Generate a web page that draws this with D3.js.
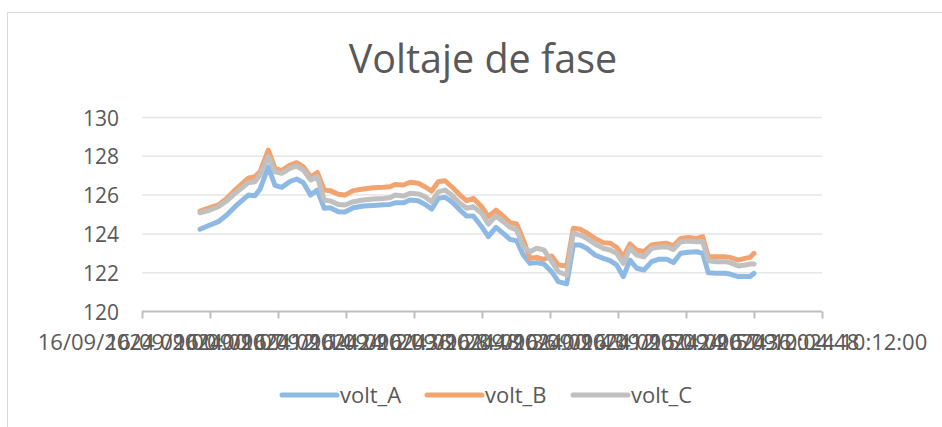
<!DOCTYPE html>
<html>
<head>
<meta charset="utf-8">
<script src="https://cdn.jsdelivr.net/npm/d3@7"></script>
<style>
  html, body { margin: 0; padding: 0; background: #fff; }
  svg { display: block; font-family: "Open Sans", sans-serif; }
</style>
</head>
<body>
<svg id="chart" width="942" height="427"></svg>
<script>
// ---- data (minutes after 16/09/2024 09:00:00) ----
const minutes = [6.14, 7.20, 8.08, 8.97, 9.85, 10.73, 11.25, 11.96, 12.49, 13.37,
  14.08, 14.79, 15.67, 16.38, 17.08, 17.86, 18.56, 19.30, 19.91, 20.78,
  21.49, 22.37, 23.43, 24.49, 25.55, 26.26, 26.79, 27.67, 28.38, 29.25,
  29.96, 30.67, 31.37, 32.08, 32.79, 33.67, 34.38, 35.08,
  35.97, 36.67, 37.48, 38.25, 38.96, 39.67, 40.37, 41.08, 41.79, 42.56,
  43.38, 44.08, 44.97, 45.67, 46.38, 47.08, 47.96, 48.84, 49.55, 50.26,
  50.96, 51.67, 52.38, 53.15, 53.97, 54.67, 55.56, 56.26, 57.04, 57.84,
  58.73, 59.37, 59.96, 60.85, 61.73, 62.26, 63.14, 63.85, 64.38, 64.80];

const voltA = [124.24, 124.46, 124.63, 124.97, 125.4, 125.78, 126.0, 125.97, 126.3, 127.46,
  126.5, 126.4, 126.7, 126.83, 126.64, 126.0, 126.26, 125.32, 125.35, 125.14,
  125.13, 125.35, 125.44, 125.47, 125.5, 125.52, 125.6, 125.6, 125.75, 125.71,
  125.52, 125.28, 125.83, 125.89, 125.66, 125.23, 124.92, 124.92,
  124.37, 123.86, 124.34, 124.03, 123.72, 123.65, 122.91, 122.48, 122.52, 122.45,
  122.05, 121.54, 121.42, 123.43, 123.43, 123.26, 122.91, 122.74, 122.62, 122.4,
  121.8, 122.65, 122.23, 122.14, 122.57, 122.69, 122.69, 122.52, 123.0, 123.05,
  123.08, 123.0, 122.0, 121.97, 121.97, 121.93, 121.8, 121.8, 121.8, 121.97];

const voltB = [125.18, 125.35, 125.49, 125.83, 126.26, 126.64, 126.87, 126.95, 127.2, 128.32,
  127.38, 127.26, 127.55, 127.67, 127.46, 126.92, 127.17, 126.26, 126.23, 126.04,
  126.0, 126.23, 126.31, 126.38, 126.4, 126.43, 126.55, 126.52, 126.66, 126.61,
  126.43, 126.21, 126.69, 126.74, 126.43, 126.0, 125.71, 125.83,
  125.4, 124.89, 125.23, 124.92, 124.58, 124.51, 123.69, 122.74, 122.79, 122.69,
  122.86, 122.4, 122.35, 124.29, 124.24, 124.06, 123.77, 123.55, 123.52, 123.31,
  122.82, 123.48, 123.17, 123.08, 123.43, 123.48, 123.52, 123.38, 123.77, 123.82,
  123.77, 123.86, 122.82, 122.82, 122.82, 122.79, 122.65, 122.74, 122.79, 123.0];

const voltC = [125.09, 125.23, 125.4, 125.7, 126.09, 126.43, 126.64, 126.69, 127.04, 127.98,
  127.2, 127.12, 127.38, 127.5, 127.29, 126.78, 126.95, 125.75, 125.7, 125.52,
  125.49, 125.66, 125.75, 125.8, 125.83, 125.86, 126.0, 125.95, 126.09, 126.06,
  125.92, 125.66, 126.17, 126.26, 126.0, 125.58, 125.32, 125.4,
  125.06, 124.51, 124.92, 124.63, 124.34, 124.2, 123.34, 123.08, 123.26, 123.17,
  122.57, 122.05, 121.88, 124.03, 123.94, 123.77, 123.48, 123.26, 123.17, 123.0,
  122.48, 123.26, 122.91, 122.82, 123.26, 123.31, 123.34, 123.2, 123.6, 123.63,
  123.6, 123.6, 122.62, 122.57, 122.57, 122.52, 122.35, 122.4, 122.45, 122.45];

const xTickMinutes = [0, 7.2, 14.4, 21.6, 28.8, 36, 43.2, 50.4, 57.6, 64.8, 72];
const xTickLabels = ["16/09/2024 09:00:00", "16/09/2024 09:07:12", "16/09/2024 09:14:24",
  "16/09/2024 09:21:36", "16/09/2024 09:28:48", "16/09/2024 09:36:00", "16/09/2024 09:43:12",
  "16/09/2024 09:50:24", "16/09/2024 09:57:36", "16/09/2024 10:04:48", "16/09/2024 10:12:00"];
const yTicks = [120, 122, 124, 126, 128, 130];

const seriesNames = ["volt_A", "volt_B", "volt_C"];
const seriesColors = ["#8DB9E4", "#F2A470", "#C0C0C0"];
const title = "Voltaje de fase";

// ---- drawing ----
const svg = d3.select("#chart");
const W = 942, H = 427;

// chart border
svg.append("rect").attr("x", 7.5).attr("y", 12.5).attr("width", W).attr("height", H)
  .attr("fill", "#fff").attr("stroke", "#D9D9D9").attr("stroke-width", 1);

const x = d3.scaleLinear().domain([0, 72]).range([142, 822]);
const y = d3.scaleLinear().domain([120, 130]).range([311.5, 117.5]);

// title
svg.append("text").attr("x", 483).attr("y", 73).attr("text-anchor", "middle")
  .attr("font-size", 39.5).attr("fill", "#595959").text(title);

// gridlines
svg.append("g").selectAll("line").data(yTicks.filter(d => d !== 120)).join("line")
  .attr("x1", x(0)).attr("x2", x(72))
  .attr("y1", d => y(d)).attr("y2", d => y(d))
  .attr("stroke", "#E6E6E6").attr("stroke-width", 1.5);

// y axis labels
const yAxis = d3.axisLeft(y).tickValues(yTicks).tickSize(0).tickPadding(0).tickFormat(d3.format("d"));
const gy = svg.append("g").attr("transform", "translate(119,0)").call(yAxis);
gy.select(".domain").remove();
gy.selectAll("text").attr("font-size", 21).attr("fill", "#595959")
  .attr("font-family", "Open Sans, sans-serif").attr("dy", "0.36em");

// x axis
const xAxis = d3.axisBottom(x).tickValues(xTickMinutes).tickSize(7).tickPadding(16)
  .tickFormat((d, i) => xTickLabels[i]);
const gx = svg.append("g").attr("transform", `translate(0,${y(120)})`).call(xAxis);
gx.select(".domain").attr("stroke", "#BFBFBF").attr("stroke-width", 2)
  .attr("d", `M${x(0)},0H${x(72)}`);
gx.selectAll(".tick line").attr("stroke", "#BFBFBF").attr("stroke-width", 2);
gx.selectAll("text").attr("font-size", 22).attr("fill", "#595959")
  .attr("font-family", "Open Sans, sans-serif");

// lines
const allSeries = [voltA, voltB, voltC];
const line = d3.line().x(d => x(d[0])).y(d => y(d[1]));
allSeries.forEach((vals, k) => {
  const pts = minutes.map((m, i) => [m, vals[i]]);
  svg.append("path").datum(pts).attr("d", line)
    .attr("fill", "none").attr("stroke", seriesColors[k]).attr("stroke-width", 5)
    .attr("stroke-linejoin", "round").attr("stroke-linecap", "round");
});

// legend
const legendX = [282, 427, 573];
const lg = svg.append("g");
seriesNames.forEach((name, k) => {
  const g = lg.append("g").attr("transform", `translate(${legendX[k]},395)`);
  g.append("line").attr("x1", 0).attr("x2", 55).attr("y1", 0).attr("y2", 0)
    .attr("stroke", seriesColors[k]).attr("stroke-width", 5).attr("stroke-linecap", "round");
  g.append("text").attr("x", 58).attr("y", 0).attr("dy", "0.36em")
    .attr("font-size", 22).attr("fill", "#595959").text(name);
});
</script>
</body>
</html>
